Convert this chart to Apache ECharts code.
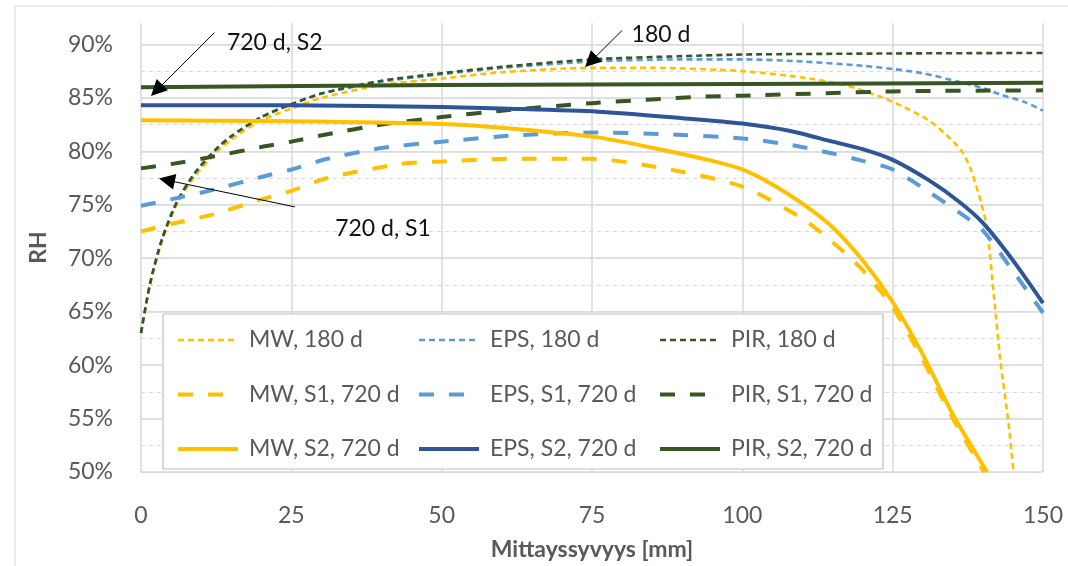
<!DOCTYPE html>
<html><head><meta charset="utf-8">
<script src="https://cdn.jsdelivr.net/npm/echarts@6/dist/echarts.min.js"></script>
<style>html,body{margin:0;padding:0;background:#fff}#c{width:1068px;height:566px}</style>
</head><body><div id="c"></div>
<script>
// ---- data (depth in mm, RH in %) ----
const xTicks = [0, 25, 50, 75, 100, 125, 150];
const yTicks = [50, 55, 60, 65, 70, 75, 80, 85, 90];

const mw180X  = [0,1.5,3.5,6,9,12.5,15,20,25,30,40,50,60,75,85,100,110,117,123,127,131,134,136.5,138,139.7,140.7,141.8,142.9,144.3,145.1];
const mw180Y  = [63.0,67.5,71.6,75.1,77.7,79.9,81.1,82.9,84.0,85.0,86.2,86.8,87.4,87.8,87.8,87.5,86.9,86.2,85.1,84.1,82.9,81.5,80.0,78.3,75.2,72.8,66.7,60.5,54.4,50.0];
const eps180X = [0,1.5,3.5,6,9,12.5,15,20,25,30,40,50,60,75,90,100,110,120,125,130,136,140,143,147,150];
const eps180Y = [63.0,67.6,71.8,75.3,78.0,80.2,81.4,83.2,84.4,85.4,86.5,87.2,87.8,88.4,88.6,88.6,88.4,88.0,87.7,87.3,86.5,85.9,85.3,84.6,83.8];
const pir180X = [0,1.5,3.5,6,9,12.5,15,20,25,30,40,50,60,75,90,100,125,150];
const pir180Y = [63.0,67.6,71.8,75.3,78.0,80.2,81.4,83.2,84.4,85.4,86.6,87.3,87.9,88.6,88.9,89.05,89.15,89.2];

const mwS1X  = [0,5,12,20,25,31,43,50,62,75,87,100,110,115,120,125,130,135,140.2];
const mwS1Y  = [72.5,73.2,74.1,75.5,76.3,77.5,78.8,79.05,79.3,79.3,78.4,76.7,73.7,71.5,68.9,65.4,60.5,55.0,50.0];
const epsS1X = [0,5,12,20,25,31,40,50,62.5,75,87,100,108,115,120,125,131,136,140,145,150];
const epsS1Y = [74.9,75.5,76.4,77.6,78.3,79.3,80.3,80.9,81.5,81.75,81.6,81.2,80.6,79.8,79.1,78.3,76.2,74.3,72.6,68.8,64.9];
const pirS1X = [0,5,12,20,25,31,40,50,60,75,93,100,125,150];
const pirS1Y = [78.4,78.8,79.5,80.4,80.9,81.6,82.5,83.2,83.8,84.5,85.1,85.2,85.6,85.7];

const mwS2X  = [0,25,50,60,76,87,95,100,105,110,115,120,125,130,135,140.7];
const mwS2Y  = [82.9,82.8,82.55,82.2,81.3,80.1,79.1,78.3,76.9,75.1,72.9,69.8,65.9,61.0,55.4,50.0];
const epsS2X = [0,25,50,60,76,90,100,108,115,120,125,131,136,140,145,150];
const epsS2Y = [84.3,84.3,84.15,84.0,83.7,83.1,82.6,81.9,80.9,80.2,79.2,77.3,75.3,73.3,69.8,65.8];
const pirS2X = [0,50,100,150];
const pirS2Y = [86.0,86.2,86.3,86.4];

// annotations (data coordinates)
const noteTexts = ['720 d, S2', '180 d', '720 d, S1'];
const noteTextAt = [[14.2, 90.2], [81.5, 90.9], [32.2, 72.8]];
const noteArrowFrom = [[12.2, 91.1], [80.0, 91.3], [25.6, 74.8]];
const noteArrowTo = [[2.6, 85.7], [74.8, 88.4], [4.3, 77.3]];

// ---- chart ----
const zip = (xs, ys) => xs.map((x, i) => [x, ys[i]]);
const YEL = '#FFC000', LB = '#5B9BD5', DB = '#2F5597', GR = '#375623';
const FONT = 'Lato';
const D180 = [6, 4], DS1 = [15, 15];
const W180 = 2.6, W720 = 4;

function mk(name, xs, ys, color, width, type) {
  return {
    name, type: 'line', data: zip(xs, ys), showSymbol: false, symbol: 'none',
    smooth: 0.25, z: 2,
    lineStyle: { color, width, type },
    itemStyle: { color }, emphasis: { disabled: true }
  };
}

const series = [
  mk('MW, 180 d', mw180X, mw180Y, YEL, W180, D180),
  mk('EPS, 180 d', eps180X, eps180Y, LB, W180, D180),
  mk('PIR, 180 d', pir180X, pir180Y, GR, W180, D180),
  mk('MW, S1, 720 d', mwS1X, mwS1Y, YEL, W720, DS1),
  mk('EPS, S1, 720 d', epsS1X, epsS1Y, LB, W720, DS1),
  mk('PIR, S1, 720 d', pirS1X, pirS1Y, GR, W720, DS1),
  mk('MW, S2, 720 d', mwS2X, mwS2Y, YEL, W720, 'solid'),
  mk('EPS, S2, 720 d', epsS2X, epsS2Y, DB, W720, 'solid'),
  mk('PIR, S2, 720 d', pirS2X, pirS2Y, GR, W720, 'solid'),
  {
    name: 'notes', type: 'line', data: [], z: 5, silent: true,
    markLine: {
      silent: true, symbol: ['none', 'triangle'], symbolSize: 16,
      lineStyle: { color: '#000', width: 1, type: 'solid' },
      itemStyle: { color: '#000' },
      label: { show: false }, emphasis: { disabled: true },
      data: noteArrowFrom.map((f, i) => [{ coord: f }, { coord: noteArrowTo[i] }])
    },
    markPoint: {
      silent: true, symbol: 'circle', symbolSize: 1,
      itemStyle: { color: 'rgba(0,0,0,0)' },
      label: { show: true, position: 'right', distance: 0, color: '#111', fontFamily: FONT, fontSize: 23,
               formatter: p => p.name },
      data: noteTexts.map((t, i) => ({ name: t, coord: noteTextAt[i] }))
    }
  }
];

const legendNames = [
  ['MW, 180 d', 'MW, S1, 720 d', 'MW, S2, 720 d'],
  ['EPS, 180 d', 'EPS, S1, 720 d', 'EPS, S2, 720 d'],
  ['PIR, 180 d', 'PIR, S1, 720 d', 'PIR, S2, 720 d']
];
const legendLeft = [176, 417, 658];
const legendWidths = [W180, W720, W720];

const option = {
  animation: false,
  backgroundColor: '#fff',
  grid: { left: 141, right: 25, top: 23, bottom: 85, containLabel: false },
  xAxis: {
    type: 'value', min: 0, max: 150, interval: 25,
    axisLine: { show: false }, axisTick: { show: false },
    axisLabel: { color: '#595959', fontFamily: FONT, fontSize: 23, margin: 32 },
    splitLine: { show: true, lineStyle: { color: '#D9D9D9', width: 1.5 } },
    name: 'Mittayssyvyys [mm]', nameLocation: 'middle', nameGap: 66,
    nameTextStyle: { color: '#595959', fontFamily: FONT, fontSize: 23, fontWeight: 'bold' }
  },
  yAxis: [{
    type: 'value', min: 50, max: 92, interval: 5,
    axisLine: { show: false }, axisTick: { show: false },
    axisLabel: { color: '#595959', fontFamily: FONT, fontSize: 23, margin: 28, showMaxLabel: false,
                 formatter: v => v + '%' },
    splitLine: { show: true, showMaxLine: false, lineStyle: { color: '#D9D9D9', width: 1.5 } },
    name: 'RH', nameLocation: 'middle', nameGap: 91, nameRotate: 90,
    nameTextStyle: { color: '#595959', fontFamily: FONT, fontSize: 23, fontWeight: 'bold' }
  }, {
    type: 'value', min: 50, max: 92, interval: 2.5, position: 'left',
    axisLine: { show: false }, axisTick: { show: false }, axisLabel: { show: false },
    splitLine: { show: true, showMaxLine: false, lineStyle: { color: '#D9D9D9', width: 1, type: [4, 4] } }
  }],
  legend: legendNames.map((names, i) => ({
    orient: 'vertical', left: legendLeft[i], top: 325, padding: 0,
    itemGap: 24.5, itemWidth: 60, itemHeight: 14, selectedMode: false, z: 6,
    itemStyle: { opacity: 0 },
    data: names.map((n, j) => ({ name: n, lineStyle: { width: legendWidths[j] } })),
    textStyle: { color: '#595959', fontFamily: FONT, fontSize: 23, lineHeight: 30, padding: [0, 0, 0, 6] }
  })),
  graphic: [
    { type: 'rect', z: 4, silent: true, shape: { x: 163, y: 314, width: 720, height: 155 },
      style: { fill: '#fff', stroke: '#BFBFBF', lineWidth: 1.2 } },
    { type: 'rect', z: 0, silent: true, shape: { x: 15, y: 6, width: 1200, height: 700 },
      style: { fill: 'none', stroke: '#D9D9D9', lineWidth: 1 } }
  ],
  series
};

const chart = echarts.init(document.getElementById('c'), null, { renderer: 'canvas' });
chart.setOption(option);
</script></body></html>
